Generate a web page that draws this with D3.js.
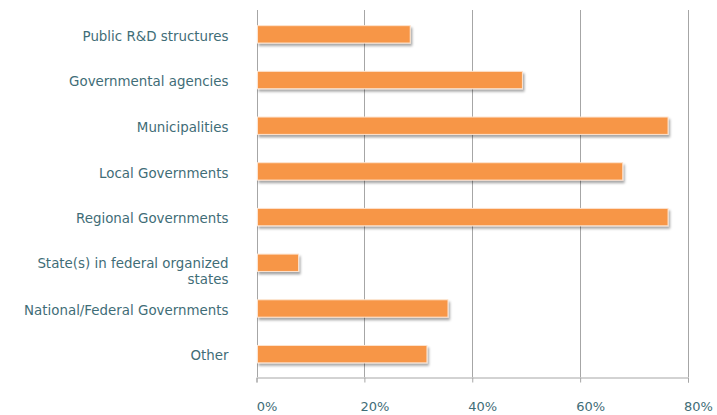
<!DOCTYPE html>
<meta charset="utf-8">
<style>
  body { margin: 0; background: #fff; }
  .cat-label, .tick text { font-family: "DejaVu Sans", Verdana, sans-serif; font-size: 13.4px; fill: #3f6d77; }
  .grid line { stroke: #a6a6a6; stroke-width: 1; }
</style>
<body>
<div id="chart"></div>
<script src="https://d3js.org/d3.v7.min.js"></script>
<script>

// categories, top to bottom
var categories = ["Public R&D structures", "Governmental agencies", "Municipalities",
  "Local Governments", "Regional Governments", "State(s) in federal organized states",
  "National/Federal Governments", "Other"];

// share of respondents (%)
var values = [28.5, 49.3, 76.3, 67.9, 76.3, 7.8, 35.5, 31.6];

var tickValues = [0, 20, 40, 60, 80];

var width = 717, height = 415;
var margin = {top: 10, right: 29, bottom: 38, left: 256.5};

var svg = d3.select("#chart").append("svg")
    .attr("width", width)
    .attr("height", height);

// drop shadow under the bars
var defs = svg.append("defs");
var f = defs.append("filter").attr("id", "shadow")
    .attr("x", "-5%").attr("y", "-30%").attr("width", "115%").attr("height", "190%");
f.append("feDropShadow")
    .attr("dx", 1.5).attr("dy", 2.5).attr("stdDeviation", 1.3)
    .attr("flood-color", "#000").attr("flood-opacity", 0.35);

var x = d3.scaleLinear()
    .domain([0, 80])
    .range([margin.left, width - margin.right]);

var y = d3.scaleBand()
    .domain(categories)
    .range([margin.top + 1.5, height - margin.bottom])
    .paddingInner(0.62)
    .paddingOuter(0.31);

// vertical gridlines
svg.append("g")
    .attr("class", "grid")
  .selectAll("line")
  .data(tickValues)
  .enter().append("line")
    .attr("x1", function(d) { return Math.round(x(d)) + 0.5; })
    .attr("x2", function(d) { return Math.round(x(d)) + 0.5; })
    .attr("y1", margin.top)
    .attr("y2", height - margin.bottom);

// bottom axis
var xAxis = svg.append("g")
    .attr("transform", "translate(0," + (height - margin.bottom + 0.5) + ")")
    .call(d3.axisBottom(x).tickValues(tickValues).tickSize(5).tickPadding(19)
      .tickFormat(function(d) { return d + "%"; }));
xAxis.select(".domain").attr("stroke", "#a6a6a6");
xAxis.selectAll(".tick line").attr("stroke", "#a6a6a6");
xAxis.selectAll(".tick text").attr("dx", 10).style("font-size", "13px");

// bars
svg.append("g")
  .selectAll("rect")
  .data(values)
  .enter().append("rect")
    .attr("x", x(0) + 1)
    .attr("y", function(d, i) { return y(categories[i]); })
    .attr("width", function(d) { return x(d) - x(0) - 1; })
    .attr("height", y.bandwidth())
    .attr("fill", "#f79646")
    .attr("stroke", "#fde3cf")
    .attr("stroke-width", 1)
    .attr("filter", "url(#shadow)");

// category labels (wrap the long one)
var labels = svg.append("g")
  .selectAll("text")
  .data(categories)
  .enter().append("text")
    .attr("class", "cat-label")
    .attr("text-anchor", "end")
    .attr("x", margin.left - 28)
    .attr("y", function(d) { return y(d) + y.bandwidth() / 2 + 1.5; })
    .attr("dy", "0.35em");

labels.each(function(d) {
  var t = d3.select(this);
  if (d === "State(s) in federal organized states") {
    t.attr("dy", null);
    t.append("tspan").attr("x", margin.left - 28).attr("dy", "0.25em").text("State(s) in federal organized");
    t.append("tspan").attr("x", margin.left - 28).attr("dy", "16").text("states");
  } else {
    t.text(d);
  }
});

</script>
</body>
